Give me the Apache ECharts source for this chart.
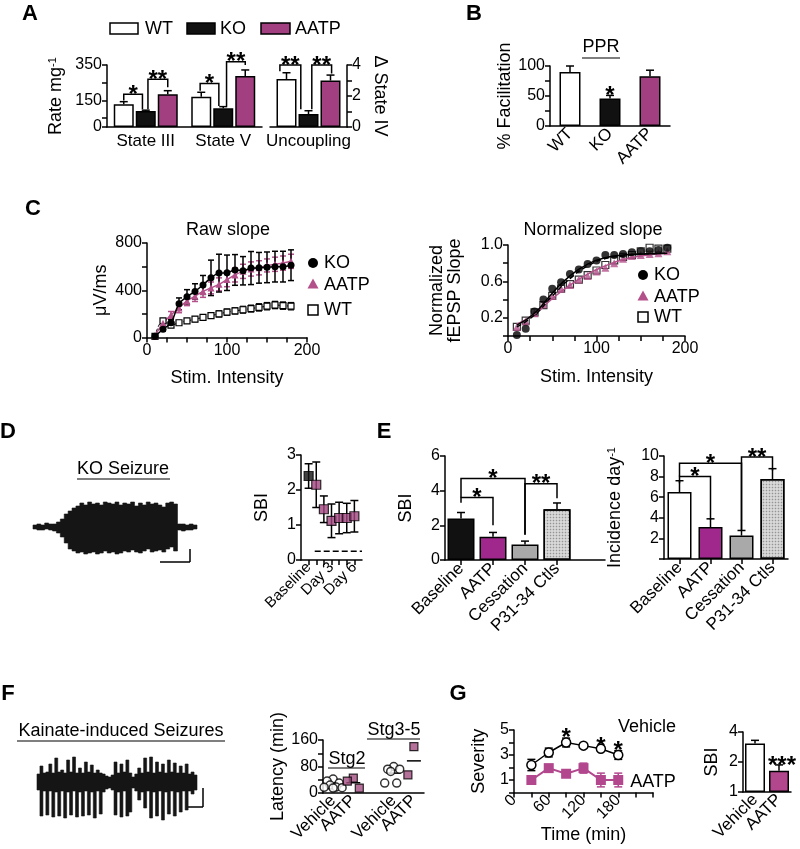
<!DOCTYPE html>
<html>
<head>
<meta charset="utf-8">
<script src="https://cdn.jsdelivr.net/npm/echarts@6/dist/echarts.min.js"></script>
<style>
  html, body { margin: 0; padding: 0; background: #fff; }
  #chart { width: 800px; height: 849px; }
</style>
</head>
<body>
<div id="chart"></div>
<script>
// ---------- values ----------
// A: respiration
const aCats = ['State III', 'State V'];
const aRateWT = [128, 171];
const aRateKO = [90, 106];
const aRateAATP = [185, 288];
const aRateErrWT = [15, 25];
const aRateErrKO = [5, 9];
const aRateErrAATP = [20, 34];
const aUncCats = ['Uncoupling'];
const aUncWT = [3.1];
const aUncKO = [0.84];
const aUncAATP = [3.0];
const aUncErrWT = [0.4];
const aUncErrKO = [0.21];
const aUncErrAATP = [0.35];

// B: PPR
const bCats = ['WT', 'KO', 'AATP'];
const bFacil = [90, 46, 83];
const bFacilErr = [10, 5, 10];

// C: input/output
const cStim = [10, 20, 30, 40, 50, 60, 70, 80, 90, 100, 110, 120, 130, 140, 150, 160, 170, 180];
const cRawKO = [10, 70, 125, 285, 345, 390, 445, 505, 545, 548, 572, 565, 588, 590, 594, 600, 600, 612];
const cRawKOErr = [5, 15, 25, 50, 60, 65, 80, 150, 160, 150, 130, 120, 140, 130, 130, 130, 130, 130];
const cRawAATP = [15, 120, 190, 250, 310, 350, 390, 420, 450, 490, 530, 560, 580, 590, 610, 620, 630, 645];
const cRawAATPErr = [5, 20, 30, 40, 40, 45, 50, 50, 55, 60, 60, 60, 60, 60, 55, 60, 60, 60];
const cRawWT = [10, 140, 105, 125, 140, 155, 170, 185, 200, 215, 225, 235, 245, 255, 265, 275, 270, 265];
const cRawWTErr = [3, 15, 15, 15, 18, 20, 20, 22, 25, 25, 25, 28, 28, 30, 30, 30, 30, 30];
const cNormKO = [0.01, 0.08, 0.27, 0.40, 0.52, 0.59, 0.68, 0.73, 0.79, 0.83, 0.89, 0.89, 0.90, 0.92, 0.93, 0.93, 0.945, 0.97];
const cNormAATP = [0.10, 0.16, 0.25, 0.35, 0.44, 0.52, 0.56, 0.62, 0.66, 0.71, 0.75, 0.80, 0.85, 0.88, 0.89, 0.90, 0.91, 0.93];
const cNormWT = [0.10, 0.17, 0.26, 0.34, 0.44, 0.52, 0.57, 0.62, 0.67, 0.72, 0.78, 0.83, 0.87, 0.89, 0.93, 0.97, 0.96, 0.96];
const cFitStim = [10, 30, 50, 70, 90, 110, 130, 150, 180];
const cFitKO = [0.12, 0.25, 0.47, 0.66, 0.79, 0.86, 0.89, 0.90, 0.91];
const cFitWT = [0.10, 0.23, 0.44, 0.63, 0.77, 0.85, 0.88, 0.90, 0.91];
const cFitAATP = [0.13, 0.24, 0.41, 0.56, 0.68, 0.77, 0.84, 0.88, 0.91];

// D: KO seizure trace envelope (arbitrary units) and SBI over days
const dTraceUp = [2, 3, 2, 4, 3, 3, 5, 8, 13, 16, 19, 21, 24, 22, 25, 23, 24, 22, 25, 24, 23, 25, 22, 24, 23, 25, 21, 24, 22, 25, 23, 24, 22, 20, 24, 25, 23, 3, 3, 2, 3, 2];
const dTraceDown = [-2, -3, -3, -2, -3, -4, -6, -10, -16, -22, -24, -26, -25, -27, -26, -25, -27, -26, -24, -26, -25, -27, -26, -24, -25, -23, -25, -26, -24, -22, -25, -24, -23, -25, -22, -20, -24, -3, -4, -3, -3, -2];
const dDays = ['Baseline', 'Day 1', 'Day 2', 'Day 3', 'Day 4', 'Day 5', 'Day 6'];
const dSBI = [2.4, 2.15, 1.45, 1.12, 1.2, 1.2, 1.25];
const dSBIErr = [0.35, 0.65, 0.38, 0.48, 0.45, 0.42, 0.45];
const dThreshold = 0.25;

// E: SBI and incidence
const eCats = ['Baseline', 'AATP', 'Cessation', 'P31-34 Ctls'];
const eSBI = [2.4, 1.34, 0.9, 2.93];
const eSBIErr = [0.34, 0.25, 0.19, 0.36];
const eInc = [6.5, 3.1, 2.27, 7.77];
const eIncErr = [1.1, 0.8, 0.5, 1.0];

// F: kainate trace envelope and latencies
const fTraceUp = [8, 16, 9, 10, 18, 9, 24, 10, 12, 9, 22, 10, 25, 9, 14, 9, 20, 10, 17, 9, 12, 9, 8, 6, 5, 7, 20, 9, 18, 10, 22, 9, 5, 8, 14, 9, 24, 10, 25, 9, 20, 10, 18, 9, 22, 10, 19, 9, 16, 9, 18, 8, 10, 7];
const fTraceDown = [-8, -34, -9, -33, -9, -35, -10, -34, -9, -36, -10, -33, -9, -35, -10, -34, -9, -33, -10, -36, -9, -32, -10, -7, -6, -8, -33, -10, -35, -9, -34, -30, -6, -9, -18, -10, -26, -9, -36, -10, -34, -9, -38, -10, -32, -9, -34, -10, -30, -9, -28, -9, -12, -8];
const fCats = ['Vehicle', 'AATP', '', 'Vehicle', 'AATP'];
const fStg2Veh = [42, 36, 30, 24, 18, 17, 16, 15];
const fStg2AATP = [45, 36, 15];
const fStg35Veh = [80, 72, 72, 65, 30, 30];
const fStg35AATP = [140, 55];
const fMeans = [22, 31, null, 60, 97];

// G: severity time course and SBI
const gTime = [30, 60, 90, 120, 150, 180];
const gVeh = [2.2, 3.2, 4.0, 3.75, 3.5, 3.0];
const gVehErr = [0.45, 0.35, 0.35, 0, 0, 0.35];
const gAATP = [1.0, 1.95, 1.5, 1.95, 1.0, 1.0];
const gAATPErr = [0, 0.15, 0, 0.4, 0.55, 0.55];
const gStarTime = [90, 150, 180];
const gStarLevel = [4.85, 4.1, 3.75];
const gCats = ['Vehicle', 'AATP'];
const gSBI = [3.07, 1.63];
const gSBIErr = [0.23, 0.24];

// significance brackets: [x1, x2, top, leg1 end, leg2 end, slot1, slot2]
const aBrackets = [[0, 0, 185, 150, 100, -1, -0.15], [0, 0, 270, 100, 225, 0.1, 1], [1, 1, 246, 205, 118, -1.05, -0.2], [1, 1, 369, 118, 350, 0.15, 1]];
const aBracketText = ['*', '**', '*', '**'];
const aUncBrackets = [[0, 0, 4.0, 3.6, 1.15, -1.3, -0.35], [0, 0, 4.0, 1.15, 3.45, 0.15, 1.05]];
const aUncBracketText = ['**', '**'];
const eSBIBrackets = [[0, 1, 3.6, 3.3, 2.0], [0, 2, 4.7, 3.6, 1.44], [2, 3, 4.4, 1.5, 3.56]];
const eSBIBracketText = ['*', '*', '**'];
const eIncBrackets = [[0, 1, 8.0, 7.35, 3.8], [0, 2, 9.3, 8.0, 2.8], [2, 3, 9.9, 2.8, 8.6]];
const eIncBracketText = ['*', '*', '**'];

// ---------- styling helpers ----------
const FONT = '"Liberation Sans", Arial, sans-serif';
const MAG = '#a23f80';
const MAG_E = '#a0288c';
const PINK = '#b3508a';
const MAG_G = '#b2478e';
const GRAY = '#a9a9a9';
const STAR = 24;

function merge(a, b) {
    for (const k in b) {
        const v = b[k];
        if (v && typeof v === 'object' && !Array.isArray(v) && a[k] && typeof a[k] === 'object') {
            a[k] = merge(Object.assign({}, a[k]), v);
        } else {
            a[k] = v;
        }
    }
    return a;
}

function vAxis(g, min, max, interval, labels, ticks, extra) {
    const ax = {
        type: 'value', gridIndex: g, min: min, max: max, interval: interval,
        axisLine: { show: true, onZero: false, lineStyle: { color: '#000', width: 1.5 } },
        axisTick: { show: true, length: 5, lineStyle: { color: '#000', width: 1.5 } },
        axisLabel: { color: '#000', fontSize: 16, fontFamily: FONT, margin: 5 },
        splitLine: { show: false },
        nameLocation: 'middle',
        nameTextStyle: { color: '#000', fontSize: 18, fontFamily: FONT }
    };
    if (labels) ax.axisLabel.customValues = labels;
    if (ticks) ax.axisTick.customValues = ticks;
    return extra ? merge(ax, extra) : ax;
}

function cAxis(g, data, extra) {
    const ax = {
        type: 'category', gridIndex: g, data: data,
        axisLine: { show: true, onZero: false, lineStyle: { color: '#000', width: 1.5 } },
        axisTick: { show: false },
        axisLabel: { color: '#000', fontSize: 17, fontFamily: FONT, interval: 0, margin: 6 },
        splitLine: { show: false }
    };
    return extra ? merge(ax, extra) : ax;
}

function hidden(g, min, max) {
    return { type: 'value', gridIndex: g, show: false, min: min, max: max };
}

// error bars: data [x, y, up, down, offsetPx]
function errBars(ax, pts, color, cap) {
    const c = color || '#000';
    const w = cap || 4;
    return {
        type: 'custom', xAxisIndex: ax, yAxisIndex: ax, z: 3, data: pts,
        renderItem: function (params, api) {
            const x = api.value(0), y = api.value(1), up = api.value(2), dn = api.value(3);
            const off = api.value(4) || 0;
            const t = api.coord([x, y + up]);
            const b = api.coord([x, y - dn]);
            const cx = t[0] + off;
            const st = { stroke: c, lineWidth: 1.5 };
            const ch = [
                { type: 'line', shape: { x1: cx, y1: t[1], x2: cx, y2: b[1] }, style: st },
                { type: 'line', shape: { x1: cx - w, y1: t[1], x2: cx + w, y2: t[1] }, style: st }
            ];
            if (dn > 0) ch.push({ type: 'line', shape: { x1: cx - w, y1: b[1], x2: cx + w, y2: b[1] }, style: st });
            return { type: 'group', children: ch };
        }
    };
}

function brackets(ax, list, labels, step) {
    const s = step || 0;
    return {
        type: 'custom', xAxisIndex: ax, yAxisIndex: ax, z: 4, data: list,
        renderItem: function (params, api) {
            const a1 = api.coord([api.value(0), api.value(3)]);
            const at = api.coord([api.value(0), api.value(2)]);
            const a2 = api.coord([api.value(1), api.value(4)]);
            const bt = api.coord([api.value(1), api.value(2)]);
            const x1 = a1[0] + (api.value(5) || 0) * s;
            const x2 = a2[0] + (api.value(6) || 0) * s;
            return {
                type: 'group', children: [
                    { type: 'polyline', shape: { points: [[x1, a1[1]], [x1, at[1]], [x2, bt[1]], [x2, a2[1]]] },
                      style: { stroke: '#000', lineWidth: 1.5, fill: 'none' } },
                    { type: 'text', style: { text: labels[params.dataIndex], x: (x1 + x2) / 2, y: at[1] + 1,
                      align: 'center', verticalAlign: 'middle', fontSize: STAR, fontWeight: 'bold', fontFamily: FONT, fill: '#000' } }
                ]
            };
        }
    };
}

function stars(ax, pts, labels) {
    return {
        type: 'custom', xAxisIndex: ax, yAxisIndex: ax, z: 4, data: pts,
        renderItem: function (params, api) {
            const p = api.coord([api.value(0), api.value(1)]);
            return { type: 'text', style: { text: labels[params.dataIndex], x: p[0] + (api.value(2) || 0), y: p[1] + STAR * 0.25,
                     align: 'center', verticalAlign: 'middle', fontSize: STAR, fontWeight: 'bold', fontFamily: FONT, fill: '#000' } };
        }
    };
}

// electrophysiology trace: one stepped polygon between the upper and lower envelope,
// placed through the hidden axes of its grid
function trace(ax, up, down) {
    return {
        type: 'custom', xAxisIndex: ax, yAxisIndex: ax, data: [[0, 0]],
        renderItem: function (params, api) {
            const top = [], bottom = [];
            up.forEach((v, j) => {
                const a = api.coord([j - 0.5, v]), b = api.coord([j + 0.5, v]);
                top.push(a, b);
                const c = api.coord([j - 0.5, down[j]]), d = api.coord([j + 0.5, down[j]]);
                bottom.push(c, d);
            });
            return { type: 'polygon', shape: { points: top.concat(bottom.reverse()) },
                     style: { fill: '#151515', stroke: '#151515', lineWidth: 0.6 } };
        }
    };
}

function swarm(vals, cat) {
    const offs = [0, -6, 6, -3, 3, -9, 9, 0];
    return vals.map((v, i) => ({ value: [cat, v], symbolOffset: [offs[i % offs.length], 0] }));
}

const ptsXY = (xs, ys) => xs.map((x, i) => [x, ys[i]]);
const errXY = (xs, ys, es) => xs.map((x, i) => [x, ys[i], es[i], es[i], 0]);
const errUp = (ys, es, off) => ys.map((y, i) => [i, y, es[i], 0, off || 0]);
const border = { borderColor: '#000', borderWidth: 1.5 };
const dotted = { symbol: 'rect', symbolSize: 0.5, dashArrayX: [3, 0], dashArrayY: [3, 0], color: 'rgba(90,90,90,0.55)' };
const eBarStyles = [
    Object.assign({ color: '#111' }, border),
    Object.assign({ color: MAG_E }, border),
    Object.assign({ color: GRAY }, border),
    Object.assign({ color: '#dcdcdc', decal: dotted }, border)
];
const eIncStyles = [Object.assign({ color: '#fff' }, border)].concat(eBarStyles.slice(1));

// ---------- graphic annotations ----------
const gfx = [];
function txt(x, y, s, size, extra) {
    gfx.push({ type: 'text', x: x, y: y, style: Object.assign({ text: s, fontSize: size || 18, fontFamily: FONT, fill: '#000',
        align: 'center', verticalAlign: 'middle' }, extra || {}) });
}
function ln(x1, y1, x2, y2, w) {
    gfx.push({ type: 'line', shape: { x1: x1, y1: y1, x2: x2, y2: y2 }, style: { stroke: '#000', lineWidth: w || 1.5 } });
}
function box(x, y, w, h, fill) {
    gfx.push({ type: 'rect', shape: { x: x, y: y, width: w, height: h }, style: { fill: fill, stroke: '#000', lineWidth: 1.5 } });
}
function tri(cx, cy, r, fill) {
    gfx.push({ type: 'polygon', shape: { points: [[cx, cy - r], [cx + r, cy + r * 0.8], [cx - r, cy + r * 0.8]] }, style: { fill: fill } });
}
function dot(cx, cy, r) {
    gfx.push({ type: 'circle', shape: { cx: cx, cy: cy, r: r }, style: { fill: '#000' } });
}

// panel letters
[['A', 30, 14], ['B', 474, 14], ['C', 33, 209], ['D', 8, 432], ['E', 384, 432], ['F', 8, 694], ['G', 458, 694]]
    .forEach(p => txt(p[1], p[2], p[0], 22, { fontWeight: 'bold' }));

// A legend
box(110, 23, 28, 11, '#fff'); txt(145, 29, 'WT', 18, { align: 'left' });
box(187, 23, 28, 11, '#111'); txt(220, 29, 'KO', 18, { align: 'left' });
box(261, 23, 29, 11, MAG); txt(295, 29, 'AATP', 18, { align: 'left' });

// B title
txt(601, 47, 'PPR', 18); ln(582, 58, 620, 58, 1.2);

// C titles and legends
txt(228, 230, 'Raw slope', 18);
txt(593, 230, 'Normalized slope', 18);
dot(313, 263, 5); txt(324, 263, 'KO', 18, { align: 'left' });
tri(313, 284, 5.5, PINK); txt(324, 285, 'AATP', 18, { align: 'left' });
box(308, 305, 10, 10, '#fff'); txt(324, 310, 'WT', 18, { align: 'left' });
dot(643, 275, 5); txt(654, 275, 'KO', 18, { align: 'left' });
tri(643, 296, 5.5, PINK); txt(654, 297, 'AATP', 18, { align: 'left' });
box(638, 312, 10, 10, '#fff'); txt(654, 317, 'WT', 18, { align: 'left' });

// D trace label and scale bar
txt(123, 469, 'KO Seizure', 18); ln(77, 479, 170, 479, 1.2);
ln(160, 562, 190, 562); ln(190, 549, 190, 562);

// F trace label, scale bar and stage labels
txt(121, 731, 'Kainate-induced Seizures', 18); ln(17, 741, 225, 741, 1.2);
ln(203, 788, 203, 807); ln(188, 807, 203, 807);
txt(347, 759, 'Stg2', 18); ln(328, 768, 365, 768, 1.2);
txt(394, 730, 'Stg3-5', 18); ln(367, 739, 420, 739, 1.2);

// G labels
txt(647, 727, 'Vehicle', 18);
txt(653, 782, 'AATP', 18);

// ---------- chart ----------
const chart = echarts.init(document.getElementById('chart'), null, { renderer: 'canvas' });

const grids = [
    { left: 107, top: 65, width: 155, height: 62 },     // 0 A rates
    { left: 270, top: 65, width: 77, height: 62 },      // 1 A uncoupling
    { left: 550, top: 66, width: 120, height: 60 },     // 2 B
    { left: 147, top: 243, width: 160, height: 94.5 },  // 3 C raw
    { left: 508, top: 245, width: 177, height: 91 },    // 4 C normalized
    { left: 33, top: 495, width: 164, height: 64 },     // 5 D trace
    { left: 301, top: 455, width: 61, height: 105 },    // 6 D SBI
    { left: 445, top: 456, width: 160, height: 104 },   // 7 E SBI
    { left: 664, top: 456, width: 124, height: 103 },   // 8 E incidence
    { left: 37, top: 750, width: 160, height: 76 },     // 9 F trace
    { left: 323, top: 740, width: 101, height: 53 },    // 10 F latency
    { left: 514, top: 730, width: 139, height: 62.5 },  // 11 G severity
    { left: 743, top: 732, width: 48, height: 60 }      // 12 G SBI
].map(g => Object.assign({ outerBoundsMode: 'none', containLabel: false }, g));

const rot = { axisLabel: { rotate: 45, margin: 5 } };

const xAxes = [
    cAxis(0, aCats),
    cAxis(1, aUncCats),
    cAxis(2, bCats, rot),
    vAxis(3, 0, 200, 25, [0, 100, 200], null, { name: 'Stim. Intensity', nameGap: 32 }),
    vAxis(4, 0, 200, 25, [0, 100, 200], null, { name: 'Stim. Intensity', nameGap: 32 }),
    hidden(5, -0.5, dTraceUp.length - 0.5),
    vAxis(6, -1, 7, 1, [0, 3, 6], [0, 1, 2, 3, 4, 5, 6], { axisLabel: { rotate: 45, fontSize: 15, formatter: v => dDays[v] || '' } }),
    cAxis(7, eCats.concat(['']), { axisLabel: { rotate: 45, margin: 6 }, axisTick: { show: true, alignWithLabel: true, length: 5, interval: i => i < 4, lineStyle: { color: '#000', width: 1.5 } } }),
    cAxis(8, eCats, { axisLabel: { rotate: 45, margin: 6 }, axisTick: { show: true, alignWithLabel: true, length: 5, lineStyle: { color: '#000', width: 1.5 } } }),
    hidden(9, -0.5, fTraceUp.length - 0.5),
    cAxis(10, fCats, rot),
    vAxis(11, 0, 240, 30, [0, 60, 120, 180], null, { name: 'Time (min)', nameGap: 34, axisLabel: { rotate: 45 } }),
    cAxis(12, gCats, rot)
];

const supRich = { sup: { fontSize: 11, fontFamily: FONT, color: '#000', verticalAlign: 'top', lineHeight: 12 } };

const yAxes = [
    vAxis(0, 0, 350, 50, [0, 150, 350], [0, 50, 150, 250, 350], { name: 'Rate mg{sup|-1}', nameGap: 42, nameTextStyle: { rich: supRich } }),
    vAxis(1, 0, 4, 1, [0, 2, 4], null, { position: 'right', name: 'Δ State IV', nameRotate: -90, nameGap: 24 }),
    vAxis(2, 0, 100, 25, [0, 50, 100], null, { name: '% Facilitation', nameGap: 36 }),
    vAxis(3, 0, 800, 200, [0, 400, 800], null, { name: 'μV/ms', nameGap: 37 }),
    vAxis(4, 0, 1, 0.2, [0.2, 0.6, 1.0], null, { name: 'Normalized\nfEPSP Slope', nameGap: 44, axisLabel: { formatter: v => v.toFixed(1) } }),
    hidden(5, -32, 32),
    vAxis(6, 0, 3, 1, null, null, { name: 'SBI', nameGap: 30 }),
    vAxis(7, 0, 6, 2, null, null, { name: 'SBI', nameGap: 30 }),
    vAxis(8, 0, 10, 2, [2, 4, 6, 8, 10], null, { name: 'Incidence day{sup|-1}', nameGap: 40, nameTextStyle: { rich: supRich } }),
    hidden(9, -44, 32),
    vAxis(10, 0, 160, 40, [0, 80, 160], null, { name: 'Latency (min)', nameGap: 36 }),
    vAxis(11, 0, 5, 1, [1, 3, 5], null, { name: 'Severity', nameGap: 26 }),
    {
        type: 'log', logBase: 2, gridIndex: 12, min: 1, max: 4,
        axisLine: { show: true, onZero: false, lineStyle: { color: '#000', width: 1.5 } },
        axisTick: { show: true, length: 5, lineStyle: { color: '#000', width: 1.5 } },
        axisLabel: { color: '#000', fontSize: 16, fontFamily: FONT, margin: 5 },
        minorTick: { show: false }, splitLine: { show: false },
        name: 'SBI', nameLocation: 'middle', nameGap: 22,
        nameTextStyle: { color: '#000', fontSize: 18, fontFamily: FONT }
    }
];

function bar(ax, name, data, color, width, extra) {
    return Object.assign({
        type: 'bar', name: name, xAxisIndex: ax, yAxisIndex: ax, data: data,
        barWidth: width, barGap: '10%',
        itemStyle: Object.assign({ color: color }, border)
    }, extra || {});
}

const series = [
    // A
    bar(0, 'WT', aRateWT, '#fff', 20),
    bar(0, 'KO', aRateKO, '#111', 20),
    bar(0, 'AATP', aRateAATP, MAG, 20),
    errBars(0, errUp(aRateWT, aRateErrWT, -22)),
    errBars(0, errUp(aRateKO, aRateErrKO, 0)),
    errBars(0, errUp(aRateAATP, aRateErrAATP, 22)),
    brackets(0, aBrackets, aBracketText, 22),
    bar(1, 'WT', aUncWT, '#fff', 20),
    bar(1, 'KO', aUncKO, '#111', 20),
    bar(1, 'AATP', aUncAATP, MAG, 20),
    errBars(1, errUp(aUncWT, aUncErrWT, -22)),
    errBars(1, errUp(aUncKO, aUncErrKO, 0)),
    errBars(1, errUp(aUncAATP, aUncErrAATP, 22)),
    brackets(1, aUncBrackets, aUncBracketText, 22),

    // B
    bar(2, 'PPR', bFacil.map((v, i) => ({ value: v, itemStyle: Object.assign({ color: ['#fff', '#111', MAG][i] }, border) })), '#fff', 21),
    errBars(2, errUp(bFacil, bFacilErr, 0)),
    stars(2, [[1, 60]], ['*']),

    // C raw slope
    errBars(3, errXY(cStim, cRawWT, cRawWTErr), '#000', 3),
    errBars(3, errXY(cStim, cRawAATP, cRawAATPErr), PINK, 3),
    errBars(3, errXY(cStim, cRawKO, cRawKOErr), '#000', 3),
    { type: 'line', xAxisIndex: 3, yAxisIndex: 3, data: ptsXY(cStim, cRawWT), smooth: 0.4, symbol: 'rect', symbolSize: 6,
      lineStyle: { color: '#000', width: 1, type: [3, 2] }, itemStyle: { color: '#fff', borderColor: '#000', borderWidth: 1.2 }, z: 5 },
    { type: 'line', xAxisIndex: 3, yAxisIndex: 3, data: ptsXY(cStim, cRawAATP), smooth: 0.4, symbol: 'triangle', symbolSize: 7,
      lineStyle: { color: PINK, width: 1.5 }, itemStyle: { color: PINK }, z: 5 },
    { type: 'line', xAxisIndex: 3, yAxisIndex: 3, data: ptsXY(cStim, cRawKO), smooth: 0.4, symbol: 'circle', symbolSize: 7,
      lineStyle: { color: '#000', width: 1.5 }, itemStyle: { color: '#000' }, z: 6 },

    // C normalized slope
    { type: 'line', xAxisIndex: 4, yAxisIndex: 4, data: ptsXY(cFitStim, cFitAATP), smooth: true, symbol: 'none',
      lineStyle: { color: PINK, width: 1.5 } },
    { type: 'line', xAxisIndex: 4, yAxisIndex: 4, data: ptsXY(cFitStim, cFitWT), smooth: true, symbol: 'none',
      lineStyle: { color: '#000', width: 1.5, type: [5, 3] } },
    { type: 'line', xAxisIndex: 4, yAxisIndex: 4, data: ptsXY(cFitStim, cFitKO), smooth: true, symbol: 'none',
      lineStyle: { color: '#000', width: 1.5 } },
    { type: 'scatter', xAxisIndex: 4, yAxisIndex: 4, data: ptsXY(cStim, cNormWT), symbol: 'rect', symbolSize: 7,
      itemStyle: { color: '#fff', borderColor: '#000', borderWidth: 1.2 } },
    { type: 'scatter', xAxisIndex: 4, yAxisIndex: 4, data: ptsXY(cStim, cNormAATP), symbol: 'triangle', symbolSize: 8,
      itemStyle: { color: PINK } },
    { type: 'scatter', xAxisIndex: 4, yAxisIndex: 4, data: ptsXY(cStim, cNormKO), symbol: 'circle', symbolSize: 8,
      itemStyle: { color: '#000' } },

    // D trace
    trace(5, dTraceUp, dTraceDown),

    // D SBI by day
    errBars(6, errXY(dDays.map((d, i) => i), dSBI, dSBIErr), '#000', 4),
    { type: 'scatter', xAxisIndex: 6, yAxisIndex: 6, symbol: 'rect', symbolSize: 9, z: 5,
      data: dSBI.map((v, i) => ({ value: [i, v], itemStyle: { color: i === 0 ? '#111' : '#a0457f', borderColor: '#000', borderWidth: 1.2 } })) },
    { type: 'line', xAxisIndex: 6, yAxisIndex: 6, data: [[0.8, dThreshold], [7, dThreshold]], symbol: 'none',
      lineStyle: { color: '#000', width: 1.5, type: [6, 3] } },

    // E SBI
    bar(7, 'SBI', eSBI.map((v, i) => ({ value: v, itemStyle: eBarStyles[i] })), '#111', 27),
    errBars(7, errUp(eSBI, eSBIErr, 0)),
    brackets(7, eSBIBrackets, eSBIBracketText, 0),

    // E incidence
    bar(8, 'Incidence', eInc.map((v, i) => ({ value: v, itemStyle: eIncStyles[i] })), '#fff', 24),
    errBars(8, errUp(eInc, eIncErr, 0)),
    brackets(8, eIncBrackets, eIncBracketText, 0),

    // F trace
    trace(9, fTraceUp, fTraceDown),

    // F latency
    { type: 'custom', xAxisIndex: 10, yAxisIndex: 10, z: 2,
      data: fMeans.map((m, i) => [i, m]).filter(d => d[1] != null),
      renderItem: function (params, api) {
          const p = api.coord([api.value(0), api.value(1)]);
          return { type: 'line', shape: { x1: p[0] - 7, y1: p[1], x2: p[0] + 7, y2: p[1] }, style: { stroke: '#000', lineWidth: 1.5 } };
      } },
    { type: 'scatter', xAxisIndex: 10, yAxisIndex: 10, symbol: 'circle', symbolSize: 8, z: 4,
      data: swarm(fStg2Veh, 0).concat(swarm(fStg35Veh, 3)),
      itemStyle: { color: '#fff', borderColor: '#000', borderWidth: 1.5 } },
    { type: 'scatter', xAxisIndex: 10, yAxisIndex: 10, symbol: 'rect', symbolSize: 8, z: 4,
      data: swarm(fStg2AATP, 1).concat(swarm(fStg35AATP, 4)),
      itemStyle: { color: '#a34d7f', borderColor: '#000', borderWidth: 1.2 } },

    // G severity
    errBars(11, errXY(gTime, gVeh, gVehErr), '#000', 4),
    errBars(11, errXY(gTime, gAATP, gAATPErr), MAG_G, 4),
    { type: 'line', xAxisIndex: 11, yAxisIndex: 11, data: ptsXY(gTime, gVeh), symbol: 'circle', symbolSize: 9, z: 5,
      lineStyle: { color: '#000', width: 1.5 }, itemStyle: { color: '#fff', borderColor: '#000', borderWidth: 1.5 } },
    { type: 'line', xAxisIndex: 11, yAxisIndex: 11, data: ptsXY(gTime, gAATP), symbol: 'rect', symbolSize: 10, z: 5,
      lineStyle: { color: MAG_G, width: 2 }, itemStyle: { color: MAG_G } },
    stars(11, ptsXY(gStarTime, gStarLevel), ['*', '*', '*']),

    // G SBI
    bar(12, 'SBI', gSBI.map((v, i) => ({ value: v, itemStyle: Object.assign({ color: ['#fff', MAG_G][i] }, border) })), '#fff', 20),
    errBars(12, errUp(gSBI, gSBIErr, 0)),
    stars(12, [[1, 2.09, 3]], ['***'])
];

chart.setOption({
    animation: false,
    backgroundColor: '#fff',
    textStyle: { fontFamily: FONT },
    grid: grids,
    xAxis: xAxes,
    yAxis: yAxes,
    series: series,
    graphic: { elements: gfx }
});
</script>
</body>
</html>
